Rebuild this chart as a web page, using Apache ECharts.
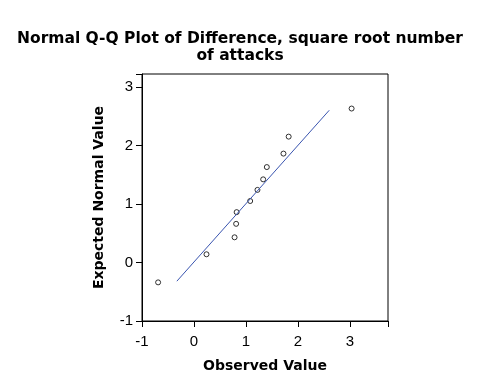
<!DOCTYPE html>
<html><head><meta charset="utf-8">
<script src="https://cdn.jsdelivr.net/npm/echarts@6/dist/echarts.min.js"></script>
<style>html,body{margin:0;padding:0;background:#fff}#c{width:480px;height:384px}</style>
</head><body><div id="c"></div>
<script>
const observed = [-0.69, 0.24, 0.78, 0.81, 0.82, 1.08, 1.22, 1.33, 1.40, 1.72, 1.82, 3.03];
const expected = [-0.34, 0.14, 0.43, 0.66, 0.86, 1.05, 1.24, 1.42, 1.63, 1.86, 2.15, 2.63];
const lineX = [-0.33, 2.60];
const lineY = [-0.32, 2.60];
const xTicks = [-1, 0, 1, 2, 3];
const yTicks = [-1, 0, 1, 2, 3];

const pts = observed.map((v, i) => [v, expected[i]]);
const linePts = lineX.map((v, i) => [v, lineY[i]]);
const font = 'Liberation Sans, Arial, sans-serif';
const bold = 'DejaVu Sans, sans-serif';
const chart = echarts.init(document.getElementById('c'), null, {renderer: 'canvas'});
chart.setOption({
  animation: false,
  backgroundColor: '#fff',
  title: {
    text: 'Normal Q-Q Plot of Difference, square root number\nof attacks',
    left: 'center', top: 25,
    textStyle: {fontFamily: bold, fontSize: 15.5, fontWeight: 'bold', color: '#000', lineHeight: 17}
  },
  grid: {left: 142, right: 92, top: 74, bottom: 63, show: true, borderColor: '#000', borderWidth: 1, backgroundColor: 'transparent'},
  xAxis: {
    type: 'value', min: -1, max: 3.73, interval: 1,
    name: 'Observed Value', nameLocation: 'middle', nameGap: 38,
    nameTextStyle: {fontFamily: bold, fontSize: 14, fontWeight: 'bold', color: '#000'},
    axisLine: {show: true, onZero: false, lineStyle: {color: '#000', width: 1}},
    axisTick: {show: true, length: 6, lineStyle: {color: '#000'}},
    axisLabel: {fontFamily: font, fontSize: 15, color: '#000', margin: 13,
      formatter: v => xTicks.includes(v) ? String(v) : ''},
    splitLine: {show: false}
  },
  yAxis: {
    type: 'value', min: -1, max: 3.22, interval: 1,
    name: 'Expected Normal Value', nameLocation: 'middle', nameGap: 36,
    nameTextStyle: {fontFamily: bold, fontSize: 14, fontWeight: 'bold', color: '#000'},
    axisLine: {show: true, onZero: false, lineStyle: {color: '#000', width: 1}},
    axisTick: {show: true, length: 6, lineStyle: {color: '#000'}},
    axisLabel: {fontFamily: font, fontSize: 15, color: '#000', margin: 9,
      formatter: v => yTicks.includes(v) ? String(v) : ''},
    splitLine: {show: false}
  },
  series: [
    {type: 'line', data: linePts, symbol: 'none', silent: true,
      lineStyle: {color: '#3a55b0', width: 1}},
    {type: 'scatter', data: pts, symbol: 'circle', symbolSize: 5,
      itemStyle: {color: '#fff', borderColor: '#000', borderWidth: 1}}
  ]
});
</script></body></html>
